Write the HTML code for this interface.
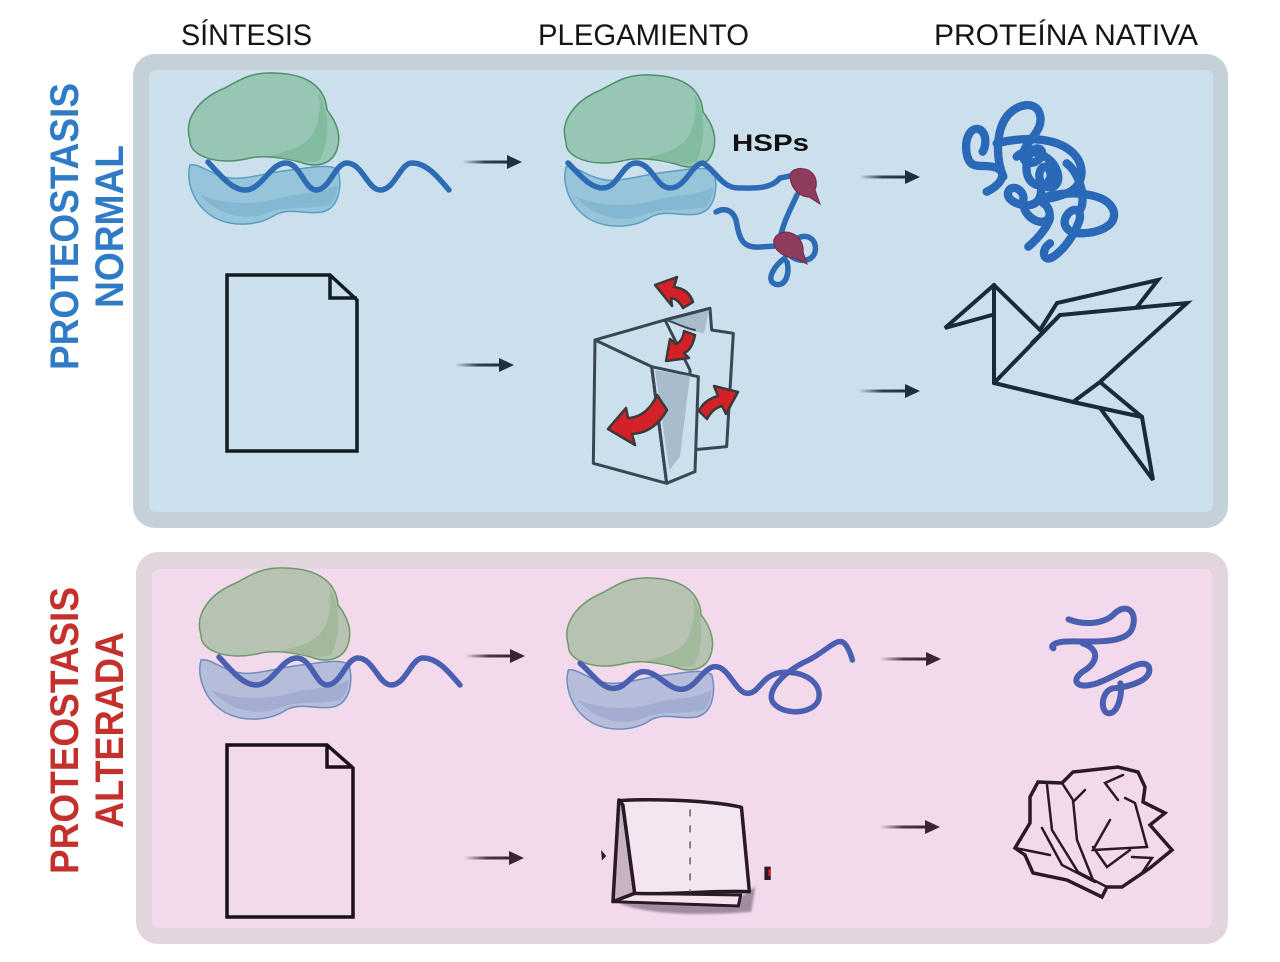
<!DOCTYPE html>
<html><head><meta charset="utf-8"><style>
html,body{margin:0;padding:0;background:#fff;}
svg{display:block;}
</style></head><body>
<svg width="1280" height="962" viewBox="0 0 1280 962" xmlns="http://www.w3.org/2000/svg">
<defs>
<linearGradient id="ga" x1="0" y1="0" x2="1" y2="0"><stop offset="0" stop-color="#1f2f3d" stop-opacity="0"/><stop offset="0.5" stop-color="#1f2f3d" stop-opacity="0.9"/><stop offset="1" stop-color="#1f2f3d"/></linearGradient>
<linearGradient id="gb" x1="0" y1="0" x2="1" y2="0"><stop offset="0" stop-color="#3a2536" stop-opacity="0"/><stop offset="0.5" stop-color="#3a2536" stop-opacity="0.9"/><stop offset="1" stop-color="#3a2536"/></linearGradient>
<filter id="blur" x="-20%" y="-20%" width="140%" height="140%"><feGaussianBlur stdDeviation="3"/></filter>
<g id="ribG">
<path d="M190,140 C183,118 200,98 225,88 C240,80 250,72 275,73 C305,74 325,85 327,110 C335,120 343,135 336,152 C330,165 315,168 300,162 C285,158 265,155 250,158 C235,162 215,163 200,155 C192,150 190,146 190,140 Z"/>
</g>
</defs>

<!-- headings -->
<g font-family="Liberation Sans, Arial, sans-serif" font-size="30" fill="#151515">
<text x="181" y="45" textLength="131" lengthAdjust="spacingAndGlyphs">SÍNTESIS</text>
<text x="538" y="45" textLength="211" lengthAdjust="spacingAndGlyphs">PLEGAMIENTO</text>
<text x="934" y="45" textLength="264" lengthAdjust="spacingAndGlyphs">PROTEÍNA NATIVA</text>
</g>

<!-- side labels -->
<g font-family="Liberation Sans, Arial, sans-serif" font-size="40" font-weight="bold">
<text transform="translate(78,370) rotate(-90)" fill="#2f7bc6" textLength="287" lengthAdjust="spacingAndGlyphs">PROTEOSTASIS</text>
<text transform="translate(123,308) rotate(-90)" fill="#2f7bc6" textLength="163" lengthAdjust="spacingAndGlyphs">NORMAL</text>
<text transform="translate(78,874) rotate(-90)" fill="#c4312d" textLength="287" lengthAdjust="spacingAndGlyphs">PROTEOSTASIS</text>
<text transform="translate(123,828) rotate(-90)" fill="#c4312d" textLength="196" lengthAdjust="spacingAndGlyphs">ALTERADA</text>
</g>

<!-- panels -->
<rect x="133" y="54" width="1095" height="474" rx="22" fill="#c5d1d9"/>
<rect x="149" y="70" width="1064" height="442" rx="7" fill="#cbe0ec"/>
<rect x="136" y="552" width="1092" height="392" rx="22" fill="#e3d5dd"/>
<rect x="152" y="569" width="1060" height="359" rx="7" fill="#f2d9ec"/>

<!-- ===== TOP ROW 1 ===== -->
<g>
<path d="M190,165 C186,180 192,205 215,218 C235,228 260,225 275,215 C290,207 305,215 322,212 C340,208 342,185 338,170 C330,163 310,168 290,170 C265,173 245,180 230,178 C210,175 200,163 190,165 Z" fill="#96c5db" stroke="#5c9ec2" stroke-width="1.5"/>
<path d="M200,195 C215,212 240,222 265,214 C285,205 305,210 330,205 C335,200 338,190 337,185 C320,195 300,192 280,198 C255,205 225,205 200,195 Z" fill="#7fb3cf" opacity="0.8"/>
<use href="#ribG" fill="#98c6b4" stroke="#4f8f6a" stroke-width="1.5"/>
<path d="M318,92 C330,110 330,140 320,160 C305,165 290,158 270,156 C290,150 312,148 318,120 C320,110 320,100 318,92 Z" fill="#80b99d" opacity="0.9"/>
<path d="M208,162 C220,175 232,190 245,190 C262,190 270,163 286,163 C300,163 305,190 316,190 C330,190 335,163 347,163 C362,163 368,190 380,190 C395,190 400,163 412,163 C428,163 440,180 449,190" fill="none" stroke="#2e6bb5" stroke-width="5.5" stroke-linecap="round"/>
</g>

<g transform="translate(376,2)">
<path d="M190,165 C186,180 192,205 215,218 C235,228 260,225 275,215 C290,207 305,215 322,212 C340,208 342,185 338,170 C330,163 310,168 290,170 C265,173 245,180 230,178 C210,175 200,163 190,165 Z" fill="#96c5db" stroke="#5c9ec2" stroke-width="1.5"/>
<path d="M200,195 C215,212 240,222 265,214 C285,205 305,210 330,205 C335,200 338,190 337,185 C320,195 300,192 280,198 C255,205 225,205 200,195 Z" fill="#7fb3cf" opacity="0.8"/>
<use href="#ribG" fill="#98c6b4" stroke="#4f8f6a" stroke-width="1.5"/>
<path d="M318,92 C330,110 330,140 320,160 C305,165 290,158 270,156 C290,150 312,148 318,120 C320,110 320,100 318,92 Z" fill="#80b99d" opacity="0.9"/>
</g>
<g fill="none" stroke="#2e6bb5" stroke-width="5.5" stroke-linecap="round">
<path d="M568,163 C580,175 590,188 603,188 C618,188 622,163 636,163 C652,163 656,188 670,188 C686,188 692,163 703,163 C715,170 722,188 738,188 C752,188 770,190 780,178 L790,176"/>
<path d="M797,195 C790,210 782,225 780,240"/>
<path d="M716,212 C725,207 735,210 737,225 C740,242 745,248 760,247 L776,246"/>
<path d="M795,240 C805,232 818,238 815,252 C812,262 800,262 792,257"/>
<path d="M785,258 C775,265 765,280 775,284 C786,288 790,272 787,262"/>
</g>
<path d="M790,178 C788,170 800,166 808,170 C816,174 818,183 815,190 L820,204 L809,197 C800,197 792,190 790,178 Z" fill="#8e3b5e" stroke="#6d2a47" stroke-width="1"/>
<path d="M774,244 C772,235 783,230 791,233 C800,236 804,245 803,252 L807,264 L795,258 C785,258 776,252 774,244 Z" fill="#8e3b5e" stroke="#6d2a47" stroke-width="1"/>
<text x="732" y="151" font-family="Liberation Sans, Arial, sans-serif" font-size="24" font-weight="bold" fill="#111" textLength="77" lengthAdjust="spacingAndGlyphs">HSPs</text>

<!-- native protein tangle -->
<g transform="translate(940,90) scale(0.3333)" fill="none" stroke="#2a69b8" stroke-width="25" stroke-linecap="round">
<path d="M140,305 C185,285 205,245 165,232 C125,220 90,245 80,190 C72,140 95,110 118,118 C140,128 140,165 128,185"/>
<path d="M190,260 C165,200 170,120 200,80 C230,40 290,30 300,75 C310,115 275,140 255,175 C235,215 270,230 295,210 C320,190 300,165 280,180 C255,200 250,260 280,280 C310,300 340,270 330,245 C320,215 290,235 300,270 C310,310 300,340 270,345 C240,350 195,330 205,305 C215,280 255,300 250,330 C245,370 285,400 310,395 C340,390 330,350 310,340"/>
<path d="M170,160 C250,140 350,140 400,190 C440,230 430,290 380,310 C340,325 320,330 300,320"/>
<path d="M320,320 C400,300 500,310 520,360 C535,410 470,430 420,430 C380,430 360,400 385,370 C410,345 430,370 415,400 C400,440 370,480 340,500 C310,520 300,480 330,460"/>
<path d="M265,470 C300,440 330,400 330,380"/>
<path d="M230,200 C260,170 330,190 350,240 C365,280 340,300 320,290"/>
<path d="M380,220 C420,250 440,330 420,360"/>
</g>

<!-- arrows top -->
<rect x="462" y="160.5" width="46" height="3" fill="url(#ga)"/><polygon points="507,155 522,162 507,169" fill="#1f2f3d"/>
<rect x="859" y="175.5" width="47" height="3" fill="url(#ga)"/><polygon points="905,170 920,177 905,184" fill="#1f2f3d"/>
<rect x="455" y="363.5" width="45" height="3" fill="url(#ga)"/><polygon points="499,358 514,365 499,372" fill="#1f2f3d"/>
<rect x="858" y="389.5" width="48" height="3" fill="url(#ga)"/><polygon points="905,384 920,391 905,398" fill="#1f2f3d"/>

<!-- ===== TOP ROW 2 ===== -->
<g fill="none" stroke="#131b22" stroke-width="3.5" stroke-linejoin="miter">
<path d="M227,275 L330,275 L357,300 L357,451 L227,451 Z"/>
<path d="M330,275 L330,298 L357,298"/>
</g>

<!-- folded map -->
<g transform="translate(580,270) scale(0.3333)" stroke="#3a4753" stroke-width="9" stroke-linejoin="round" stroke-linecap="round">
<path d="M255,150 L390,115 L395,180 L460,190 L440,530 L335,540 L330,300 Z" fill="#cbe0ec"/>
<path d="M262,152 L388,120 L372,190 L320,178 Z" fill="#a9bccb" stroke="none"/>
<path d="M45,210 L255,150 L390,115" fill="none"/>
<path d="M45,210 L215,290 L260,640 L40,580 Z" fill="#cbe0ec"/>
<path d="M215,290 L355,320 L345,605 L260,640 Z" fill="#cbe0ec"/>
<path d="M225,300 L330,318 L300,560 L268,600 Z" fill="#a9bccb" stroke="none"/>
<path d="M75,225 L215,290" fill="none" stroke-width="6"/>
<path d="M215,290 L260,640" fill="none"/>
<path d="M260,150 C300,165 320,175 345,180" fill="none" stroke-width="6"/>
</g>
<!-- red arrows -->
<g fill="#d42027" stroke="#3a3a3a" stroke-width="2.5" stroke-linejoin="round">
<path d="M693,302 L683,308 Q678,299 671,298 L672,306 L655,285 L677,277 L674,287 Q689,289 693,302 Z"/>
<path d="M684,331 L695,335 Q692,350 684,353 L689,358 L666,361 L670,339 L676,344 Q683,341 684,331 Z"/>
<path d="M657,395 L667,410 Q654,433 632,434 L635,445 L608,429 L626,408 L628,418 Q647,417 657,395 Z"/>
<path d="M699,411 L707,419 Q713,408 722,406 L726,414 L738,392 L714,386 L718,396 Q704,400 699,411 Z"/>
</g>

<!-- origami bird -->
<g fill="none" stroke="#1b2a38" stroke-width="4" stroke-linejoin="miter" stroke-linecap="round">
<path d="M994,285 L945,328 L992,315"/>
<path d="M994,285 L994,383"/>
<path d="M994,285 L1040,330"/>
<path d="M1040,330 L1057,303 L1158,280 L1137,307"/>
<path d="M1032,343 L1060,315 L1187,303 L1100,382"/>
<path d="M994,383 L1060,315"/>
<path d="M994,383 L1073,402 L1142,417"/>
<path d="M1073,402 L1100,382 L1142,417 L1153,480 L1100,408"/>
</g>

<!-- ===== BOTTOM ROW 1 ===== -->
<g transform="translate(11,495)">
<path d="M190,165 C186,180 192,205 215,218 C235,228 260,225 275,215 C290,207 305,215 322,212 C340,208 342,185 338,170 C330,163 310,168 290,170 C265,173 245,180 230,178 C210,175 200,163 190,165 Z" fill="#b5bddb" stroke="#6f8cc0" stroke-width="1.5"/>
<path d="M200,195 C215,212 240,222 265,214 C285,205 305,210 330,205 C335,200 338,190 337,185 C320,195 300,192 280,198 C255,205 225,205 200,195 Z" fill="#9fa9d0" opacity="0.8"/>
<use href="#ribG" fill="#b6c2b2" stroke="#6f9a67" stroke-width="1.5"/>
<path d="M318,92 C330,110 330,140 320,160 C305,165 290,158 270,156 C290,150 312,148 318,120 C320,110 320,100 318,92 Z" fill="#a0b898" opacity="0.9"/>
<path d="M208,162 C220,175 232,190 245,190 C262,190 270,163 286,163 C300,163 305,190 316,190 C330,190 335,163 347,163 C362,163 368,190 380,190 C395,190 400,163 412,163 C428,163 440,180 449,190" fill="none" stroke="#4a5fb0" stroke-width="5.5" stroke-linecap="round"/>
</g>
<g transform="translate(384,505) scale(0.97,1)">
<path d="M190,165 C186,180 192,205 215,218 C235,228 260,225 275,215 C290,207 305,215 322,212 C340,208 342,185 338,170 C330,163 310,168 290,170 C265,173 245,180 230,178 C210,175 200,163 190,165 Z" fill="#b5bddb" stroke="#6f8cc0" stroke-width="1.5"/>
<path d="M200,195 C215,212 240,222 265,214 C285,205 305,210 330,205 C335,200 338,190 337,185 C320,195 300,192 280,198 C255,205 225,205 200,195 Z" fill="#9fa9d0" opacity="0.8"/>
<use href="#ribG" fill="#b6c2b2" stroke="#6f9a67" stroke-width="1.5"/>
<path d="M318,92 C330,110 330,140 320,160 C305,165 290,158 270,156 C290,150 312,148 318,120 C320,110 320,100 318,92 Z" fill="#a0b898" opacity="0.9"/>
</g>
<g transform="translate(540,560) scale(0.4719,0.3333)" fill="none" stroke="#4a5fb0" stroke-width="5.5" stroke-linecap="round">
<path vector-effect="non-scaling-stroke" d="M85,310 C110,340 130,385 155,385 C185,385 195,335 220,335 C250,335 270,388 300,388 C330,388 345,320 372,320 C400,320 415,400 440,400 C465,400 470,345 510,338 C560,330 600,370 590,420 C580,460 520,470 495,430 C475,395 520,330 570,300 C610,270 630,230 645,250 C655,265 660,290 662,300"/>
<path vector-effect="non-scaling-stroke" stroke-width="6" d="M1120,178 C1150,195 1195,195 1218,160 C1240,130 1268,150 1255,205 C1240,260 1150,240 1110,245 C1090,248 1080,258 1088,265"/>
<path vector-effect="non-scaling-stroke" stroke-width="6" d="M1150,250 C1190,270 1180,310 1150,335 C1125,360 1135,390 1180,370 C1230,345 1275,290 1290,320 C1300,360 1250,380 1215,385 C1190,390 1185,455 1205,460 C1225,462 1235,400 1230,370"/>
</g>

<!-- arrows bottom -->
<rect x="465" y="654.5" width="46" height="3" fill="url(#gb)"/><polygon points="510,649 525,656 510,663" fill="#3a2536"/>
<rect x="880" y="657.5" width="47" height="3" fill="url(#gb)"/><polygon points="926,652 941,659 926,666" fill="#3a2536"/>
<rect x="464" y="856.5" width="46" height="3" fill="url(#gb)"/><polygon points="509,851 524,858 509,865" fill="#3a2536"/>
<rect x="880" y="825.5" width="46" height="3" fill="url(#gb)"/><polygon points="925,820 940,827 925,834" fill="#3a2536"/>

<!-- ===== BOTTOM ROW 2 ===== -->
<g fill="none" stroke="#1a1016" stroke-width="3.5" stroke-linejoin="miter">
<path d="M227,745 L327,745 L353,768 L353,917 L227,917 Z"/>
<path d="M327,745 L327,767 L353,767"/>
</g>

<!-- folded card -->
<g transform="translate(180,730) scale(0.3954,0.3333)">
<path d="M1110,520 C1200,560 1350,555 1445,545 L1455,470 L1420,500 Z" fill="#8c7a8b" filter="url(#blur)" opacity="0.8"/>
<path d="M1095,515 L1412,528 L1418,495 L1150,490 Z" fill="#f3e3ef" stroke="#2a1a28" stroke-width="3" vector-effect="non-scaling-stroke"/>
<path d="M1110,210 L1095,515 L1150,490 L1120,225 Z" fill="#c8b3c5" stroke="#2a1a28" stroke-width="3.5" vector-effect="non-scaling-stroke" stroke-linejoin="round"/>
<path d="M1112,212 C1200,205 1350,212 1420,232 L1440,485 C1350,480 1250,495 1150,490 L1120,225 Z" fill="#f4e6f1" stroke="#2a1a28" stroke-width="3.5" vector-effect="non-scaling-stroke" stroke-linejoin="round"/>
<path d="M1290,238 L1290,485" fill="none" stroke="#8a7888" stroke-width="2" stroke-dasharray="7,9" vector-effect="non-scaling-stroke"/>
<path d="M1065,360 L1078,378 L1067,392 Z" fill="#2a1a28"/>
<rect x="1478" y="410" width="16" height="40" fill="#2a1a28"/>
<rect x="1488" y="418" width="6" height="20" fill="#d42027"/>
</g>

<!-- crumpled paper -->
<g fill="none" stroke="#2a1a28" stroke-width="3.5" stroke-linejoin="miter" stroke-linecap="round">
<path d="M1038,782 L1062,783 L1073,772 L1118,767 L1138,772 L1145,787 L1143,802 L1165,813 L1150,825 L1172,850 L1150,868 L1122,887 L1107,887 L1102,897 L1067,880 L1033,873 L1025,855 L1015,848 L1030,823 L1030,797 Z"/>
<path d="M1047,785 L1052,830 L1078,872 L1107,887" stroke-width="2.5"/>
<path d="M1042,828 L1062,865 L1095,882" stroke-width="2.5"/>
<path d="M1062,783 L1073,800 L1077,840 L1093,880" stroke-width="2.5"/>
<path d="M1085,790 L1073,802" stroke-width="2.5"/>
<path d="M1123,775 L1105,783 L1118,800" stroke-width="2.5"/>
<path d="M1125,798 L1135,803 L1147,847 L1093,850 L1110,820" stroke-width="2.5"/>
<path d="M1093,847 L1107,867 L1130,850" stroke-width="2.5"/>
<path d="M1132,857 L1152,858 L1142,873" stroke-width="2.5"/>
<path d="M1015,848 L1050,855" stroke-width="2.5"/>
</g>
</svg>
</body></html>
